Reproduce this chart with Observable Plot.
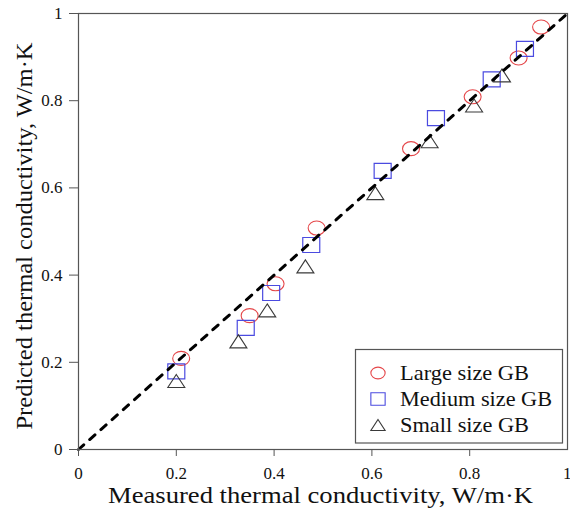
<!DOCTYPE html>
<html>
<head>
<meta charset="utf-8">
<script src="https://cdn.jsdelivr.net/npm/d3@7"></script>
<script src="https://cdn.jsdelivr.net/npm/@observablehq/plot@0.6"></script>
<style>
  html, body { margin: 0; padding: 0; background: #fff; }
  #chart { position: relative; width: 570px; height: 511px; }
  #chart svg text { font-family: "Liberation Serif", "Times New Roman", Tinos, serif; }
</style>
</head>
<body>
<div id="chart"></div>
<script>
// ---- data ----
const measuredLarge   = [0.210, 0.350, 0.403, 0.487, 0.680, 0.806, 0.900, 0.946];
const predictedLarge  = [0.209, 0.307, 0.380, 0.508, 0.690, 0.809, 0.898, 0.969];
const measuredMedium  = [0.200, 0.342, 0.394, 0.476, 0.622, 0.731, 0.845, 0.913];
const predictedMedium = [0.179, 0.279, 0.359, 0.469, 0.639, 0.760, 0.849, 0.919];
const measuredSmall   = [0.200, 0.327, 0.386, 0.464, 0.607, 0.718, 0.809, 0.866];
const predictedSmall  = [0.157, 0.248, 0.319, 0.420, 0.588, 0.707, 0.789, 0.858];
const seriesNames = ["Large size GB", "Medium size GB", "Small size GB"];
const identityLine = [0, 1];
const xTicks = [0, 0.2, 0.4, 0.6, 0.8];
const xTickLast = [1];
const yTicks = [0, 0.2, 0.4, 0.6, 0.8, 1];
const xTitle = "Measured thermal conductivity, W/m·K";
const yTitle = "Predicted thermal conductivity, W/m·K";

// ---- custom marker shapes (slightly wide, like the reference) ----
function unit(size) { return Math.sqrt(size / Math.PI) / 7.5; }
const ellipseSymbol = {
  draw(ctx, size) {
    const f = unit(size), rx = 8.5 * f, ry = 7.0 * f, k = 0.5523;
    ctx.moveTo(rx, 0);
    ctx.bezierCurveTo(rx, ry * k, rx * k, ry, 0, ry);
    ctx.bezierCurveTo(-rx * k, ry, -rx, ry * k, -rx, 0);
    ctx.bezierCurveTo(-rx, -ry * k, -rx * k, -ry, 0, -ry);
    ctx.bezierCurveTo(rx * k, -ry, rx, -ry * k, rx, 0);
    ctx.closePath();
  }
};
const squareSymbol = {
  draw(ctx, size) {
    const f = unit(size), w = 8.5 * f, h = 7.5 * f;
    ctx.moveTo(-w, -h); ctx.lineTo(w, -h); ctx.lineTo(w, h); ctx.lineTo(-w, h); ctx.closePath();
  }
};
const triangleSymbol = {
  draw(ctx, size) {
    const f = unit(size), w = 8.5 * f, h = 6.5 * f;
    ctx.moveTo(0, -h); ctx.lineTo(w, h); ctx.lineTo(-w, h); ctx.closePath();
  }
};

const colors = ["#e5474a", "#4b4be0", "#3a3a3a"];
const symbols = [ellipseSymbol, squareSymbol, triangleSymbol];

const large  = measuredLarge.map((x, i) => ({x, y: predictedLarge[i]}));
const medium = measuredMedium.map((x, i) => ({x, y: predictedMedium[i]}));
const small  = measuredSmall.map((x, i) => ({x, y: predictedSmall[i]}));

const font = '"Liberation Serif", "Times New Roman", Tinos, serif';
const W = 570, H = 511;
const plot = Plot.plot({
  width: W, height: H,
  marginLeft: 78, marginRight: 3, marginTop: 13, marginBottom: 62,
  style: { fontFamily: font, fontSize: "17px", background: "#fff", color: "#111" },
  x: { domain: [0, 1], label: null },
  y: { domain: [0, 1], label: null },
  marks: [
    Plot.dot(large,  {x: "x", y: "y", symbol: () => ellipseSymbol,  r: 7.5, stroke: colors[0], strokeWidth: 1.1, fill: "none"}),
    Plot.dot(medium, {x: "x", y: "y", symbol: () => squareSymbol,   r: 7.5, stroke: colors[1], strokeWidth: 1.2, fill: "none"}),
    Plot.dot(small,  {x: "x", y: "y", symbol: () => triangleSymbol, r: 7.5, stroke: colors[2], strokeWidth: 1.1, fill: "none"}),
    Plot.line(identityLine, {x: d => d, y: d => d, stroke: "#000", strokeWidth: 3, strokeDasharray: "7,8"}),
    Plot.frame({stroke: "#555", strokeWidth: 1.2}),
    Plot.axisX({ticks: xTicks, tickSize: 7, tickPadding: 10, tickFormat: d => String(d), stroke: "#555", label: null}),
    Plot.axisX({ticks: xTickLast, tickSize: 7, tickPadding: 10, tickFormat: d => String(d), stroke: "#555", label: null, textAnchor: "end", dx: 4}),
    Plot.axisY({ticks: yTicks, tickSize: 9, tickPadding: 7, tickFormat: d => String(d), stroke: "#555", label: null})
  ]
});
document.getElementById("chart").appendChild(plot);

// ---- axis titles and legend ----
const svg = d3.select(plot);
svg.append("text")
  .attr("x", 320.5).attr("y", 503)
  .attr("text-anchor", "middle")
  .style("font-family", font).style("font-size", "24px")
  .attr("fill", "#111")
  .attr("textLength", 425).attr("lengthAdjust", "spacingAndGlyphs")
  .text(xTitle);
svg.append("text")
  .attr("transform", "translate(31.5,236) rotate(-90)")
  .attr("text-anchor", "middle")
  .style("font-family", font).style("font-size", "23px")
  .attr("fill", "#111")
  .attr("textLength", 387).attr("lengthAdjust", "spacingAndGlyphs")
  .text(yTitle);

const legend = svg.append("g");
legend.append("rect")
  .attr("x", 355.5).attr("y", 349.5).attr("width", 207).attr("height", 93.5)
  .attr("fill", "#fff").attr("stroke", "#555").attr("stroke-width", 1.2);
const legendLengths = [129, 152, 129];
seriesNames.forEach((name, i) => {
  const cy = 373 + i * 26;
  legend.append("path")
    .attr("transform", `translate(378,${cy})`)
    .attr("d", d3.symbol(symbols[i], Math.PI * 6.3 * 6.3)())
    .attr("fill", "none").attr("stroke", colors[i]).attr("stroke-width", 1.1);
  legend.append("text")
    .attr("x", 400).attr("y", cy + 6.5)
    .attr("text-anchor", "start")
    .style("font-family", font).style("font-size", "21px")
    .attr("fill", "#111")
    .attr("textLength", legendLengths[i]).attr("lengthAdjust", "spacingAndGlyphs")
    .text(name);
});
</script>
</body>
</html>
